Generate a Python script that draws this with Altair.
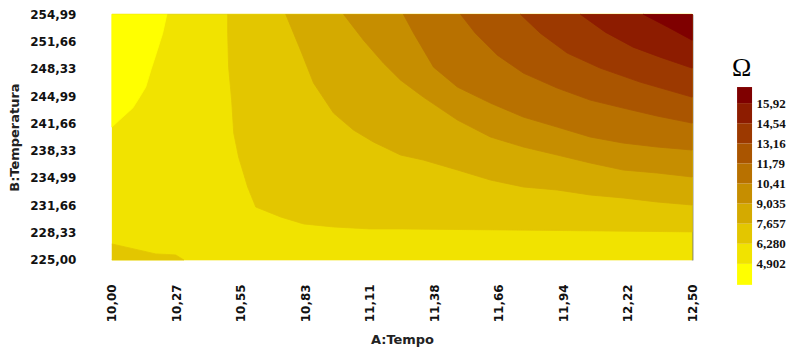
import json
import altair as alt
import pandas as pd

# ---------------- axis ticks ----------------
x_ticks = [10.0, 10.2778, 10.5556, 10.8333, 11.1111, 11.3889, 11.6667, 11.9444, 12.2222, 12.5]
x_tick_labels = ["10,00", "10,27", "10,55", "10,83", "11,11", "11,38", "11,66", "11,94", "12,22", "12,50"]
y_ticks = [225.0, 228.332, 231.664, 234.997, 238.329, 241.661, 244.993, 248.326, 251.658, 254.99]
y_tick_labels = ["225,00", "228,33", "231,66", "234,99", "238,33", "241,66", "244,99", "248,33", "251,66", "254,99"]

x_domain = [10.0, 12.5]
y_domain = [225.0, 254.99]

# ---------------- contour levels ----------------
thresholds = [4.902, 6.280, 7.657, 9.035, 10.41, 11.79, 13.16, 14.54, 15.92]
threshold_labels = ["4,902", "6,280", "7,657", "9,035", "10,41", "11,79", "13,16", "14,54", "15,92"]
z_min, z_max = 3.465, 17.02
level_colors = ["#FFFF00", "#F1E300", "#E3C600", "#D4AA00", "#C68E00",
                "#B87100", "#AA5500", "#9C3900", "#8D1C00", "#7F0000"]

# ---------------- contour boundaries ----------------
# L0 | L1  (yellow top-left pocket)
b1_x = [10.237, 10.219, 10.189, 10.168, 10.146, 10.112, 10.090, 10.047, 10.0]
b1_y = [254.99, 252.67, 249.99, 248.16, 246.09, 244.51, 243.53, 242.43, 241.21]
# bottom-left pocket of level 2
bl_x = [10.0, 10.095, 10.189, 10.275, 10.310]
bl_y = [226.95, 226.34, 225.73, 225.61, 225.0]
# L1 | L2
b2_x = [10.499, 10.499, 10.503, 10.516, 10.525, 10.546, 10.585, 10.620, 10.727, 10.826,
        10.955, 11.114, 11.244, 11.674, 12.104, 12.5]
b2_y = [254.99, 252.67, 248.53, 244.51, 240.48, 237.56, 233.90, 231.46, 230.24, 229.39,
        229.02, 228.78, 228.78, 228.66, 228.54, 228.42]
# L2 | L3
b3_x = [10.749, 10.813, 10.869, 10.955, 11.041, 11.127, 11.244, 11.342, 11.489, 11.631,
        11.773, 11.919, 12.061, 12.203, 12.349, 12.5]
b3_y = [254.99, 250.60, 246.58, 242.92, 240.85, 239.39, 237.80, 237.19, 235.97, 234.75,
        233.90, 233.53, 232.92, 232.56, 232.07, 231.70]
# L3 | L4
b4_x = [10.998, 11.084, 11.170, 11.244, 11.342, 11.489, 11.631, 11.773, 11.919, 12.061,
        12.203, 12.349, 12.5]
b4_y = [254.99, 251.82, 249.02, 246.94, 244.87, 242.07, 240.00, 238.78, 237.80, 236.83,
        235.97, 235.61, 235.12]
# L4 | L5
b5_x = [11.256, 11.300, 11.386, 11.489, 11.631, 11.773, 11.919, 12.061, 12.203, 12.349, 12.5]
b5_y = [254.99, 252.67, 248.53, 246.09, 244.14, 242.43, 241.21, 240.00, 239.26, 238.78, 238.41]
# L5 | L6
b6_x = [11.502, 11.566, 11.661, 11.773, 11.919, 12.061, 12.203, 12.349, 12.5]
b6_y = [254.99, 252.67, 249.99, 247.80, 245.97, 244.51, 243.53, 242.56, 241.70]
# L6 | L7
b7_x = [11.760, 11.846, 11.962, 12.104, 12.276, 12.5]
b7_y = [254.99, 252.67, 250.24, 248.41, 246.70, 244.87]
# L7 | L8
b8_x = [12.018, 12.126, 12.246, 12.362, 12.5]
b8_y = [254.99, 252.80, 250.97, 249.75, 248.41]
# L8 | L9
b9_x = [12.289, 12.397, 12.5]
b9_y = [254.99, 253.40, 251.82]

# ---------------- build polygons (drawn in this order) ----------------
corner_tr = (x_domain[1], y_domain[1])
polys = [
    (1, [x_domain[0], x_domain[1], x_domain[1], x_domain[0]],
        [y_domain[0], y_domain[0], y_domain[1], y_domain[1]]),
    (0, b1_x + [x_domain[0]], b1_y + [y_domain[1]]),
    (2, bl_x + [x_domain[0]], bl_y + [y_domain[0]]),
]
for lev, bx, by in [(2, b2_x, b2_y), (3, b3_x, b3_y), (4, b4_x, b4_y), (5, b5_x, b5_y),
                    (6, b6_x, b6_y), (7, b7_x, b7_y), (8, b8_x, b8_y), (9, b9_x, b9_y)]:
    polys.append((lev, bx + [corner_tr[0]], by + [corner_tr[1]]))

rows = []
for pid, (lev, xs, ys) in enumerate(polys):
    for j, (xv, yv) in enumerate(zip(xs, ys)):
        rows.append({"poly": pid, "level": lev, "ord": j, "x": xv, "y": yv})
poly_df = pd.DataFrame(rows)

FONT = "DejaVu Sans"

def label_expr(values, labels):
    return f"{json.dumps(labels)}[indexof({json.dumps(values)}, datum.value)]"

x_scale = alt.Scale(domain=x_domain, nice=False, zero=False)
y_scale = alt.Scale(domain=y_domain, nice=False, zero=False)

x_axis = alt.Axis(values=x_ticks, labelExpr=label_expr(x_ticks, x_tick_labels),
                  labelAngle=270, labelAlign="right", labelBaseline="middle",
                  labelPadding=24, ticks=False, domain=False, grid=False,
                  labelFont=FONT, labelFontWeight="bold", labelFontSize=12, labelColor="#111",
                  title="A:Tempo", titleFont=FONT, titleFontWeight="bold", titleFontSize=13,
                  titlePadding=12, titleColor="#222", labelOverlap=False)
y_axis = alt.Axis(values=y_ticks, labelExpr=label_expr(y_ticks, y_tick_labels),
                  labelPadding=36, ticks=False, domain=False, grid=False,
                  labelFont=FONT, labelFontWeight="bold", labelFontSize=12, labelColor="#111",
                  title="B:Temperatura", titleFont=FONT, titleFontWeight="bold", titleFontSize=13,
                  titlePadding=8, titleColor="#222", labelOverlap=False)

base = alt.Chart(poly_df).encode(
    x=alt.X("x:Q", scale=x_scale, axis=x_axis),
    y=alt.Y("y:Q", scale=y_scale, axis=y_axis),
    order=alt.Order("ord:Q"),
)

poly_layers = []
for pid, (lev, xs, ys) in enumerate(polys):
    col = level_colors[lev]
    poly_layers.append(
        base.transform_filter(alt.datum.poly == pid).mark_line(
            filled=True, fill=col, stroke=col, strokeWidth=0.8, strokeJoin="round"
        )
    )
polys_chart = alt.layer(*poly_layers)

border = alt.Chart(poly_df).transform_filter(alt.datum.poly == 0).mark_line(opacity=0).encode(
    x=alt.X("x:Q", scale=x_scale,
            axis=alt.Axis(orient="top", labels=False, ticks=False, grid=False, title=None,
                          domainColor="#9aa3ad", domainWidth=1.5)),
    y=alt.Y("y:Q", scale=y_scale,
            axis=alt.Axis(orient="right", labels=False, ticks=False, grid=False, title=None,
                          domainColor="#6e6e6e", domainWidth=1.5)),
    order=alt.Order("ord:Q"),
)

main = alt.layer(polys_chart, border).resolve_axis(x="independent", y="independent").properties(
    width=581, height=246, view=alt.ViewBackground(stroke="transparent", strokeWidth=0)
)

# ---------------- colour bar ----------------
edges = [z_min] + thresholds + [z_max]
leg_df = pd.DataFrame({
    "lo": edges[:-1],
    "hi": edges[1:],
    "level": list(range(len(level_colors))),
})
legend = alt.Chart(leg_df).mark_rect(stroke="transparent", strokeWidth=0).encode(
    y=alt.Y("lo:Q", scale=alt.Scale(domain=[3.465, 22.01], nice=False, zero=False),
            axis=alt.Axis(orient="right", values=thresholds,
                          labelExpr=label_expr(thresholds, threshold_labels),
                          ticks=False, domain=False, grid=False, labelPadding=4,
                          labelFont="Liberation Serif", labelFontWeight="bold", labelFontSize=13,
                          labelColor="#111", labelOverlap=False,
                          title="Ω", titleAngle=0, titleFont="Liberation Serif",
                          titleFontWeight="normal", titleFontSize=26, titleColor="#000",
                          titleX=-11, titleY=61, titleAlign="center", titleBaseline="alphabetic")),
    y2="hi:Q",
    color=alt.Color("level:O", scale=alt.Scale(domain=list(range(len(level_colors))),
                                               range=level_colors), legend=None),
).properties(width=15, height=271, view=alt.ViewBackground(stroke="transparent", strokeWidth=0))

chart = alt.hconcat(main, legend, spacing=45, bounds="flush").properties(
    padding={"left": 0, "top": 0, "right": 0, "bottom": 0}
).configure_view(stroke="transparent", strokeWidth=0).configure(background="white")

chart.save("out.html", embed_options={"renderer": "svg", "actions": False})
